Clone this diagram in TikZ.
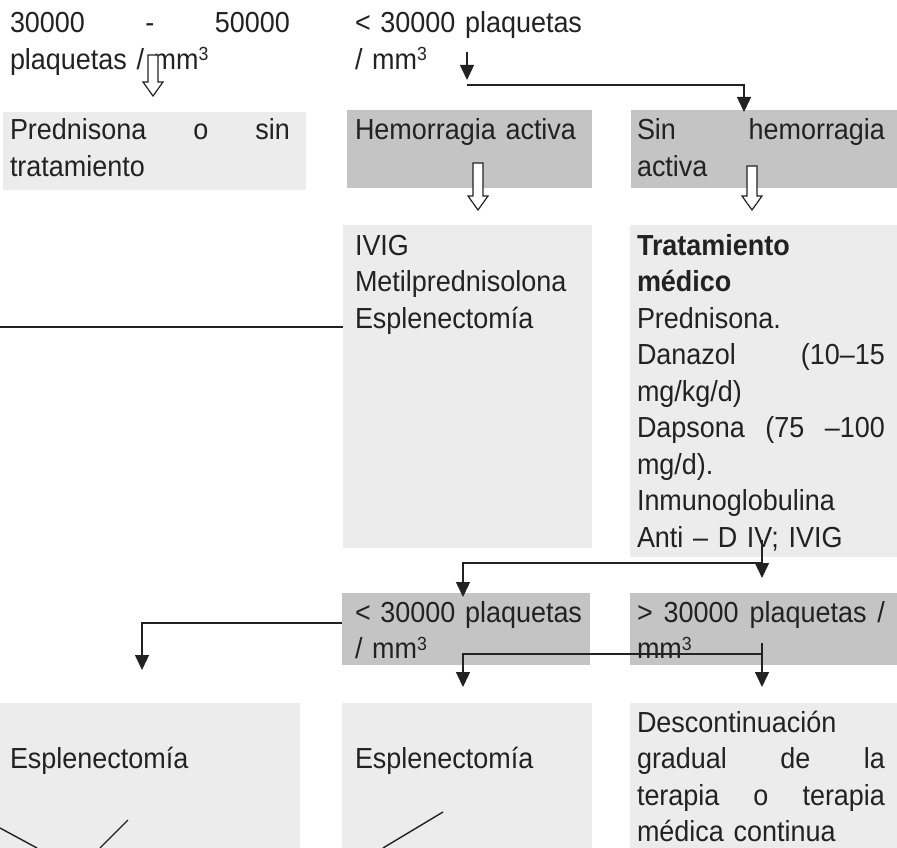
\documentclass[tikz,border=0pt]{standalone}
\usepackage{fontspec}
\setmainfont{Liberation Sans}[FakeStretch=0.93]
\usetikzlibrary{arrows.meta}
\definecolor{boxdark}{RGB}{196,196,196}
\definecolor{boxlight}{RGB}{236,236,236}
\definecolor{ink}{RGB}{34,34,34}
\newcommand\cubed{\raisebox{8.5pt}{\fontsize{19}{19}\selectfont 3}}
\begin{document}
\begin{tikzpicture}[x=1pt,y=1pt,
  txt/.style={anchor=base west, inner sep=0pt, outer sep=0pt, align=left, text=ink,
              font=\fontsize{29}{36.5}\selectfont},
  darkbox/.style={fill=boxdark, draw=none, anchor=north west, inner sep=0pt, outer sep=0pt},
  lightbox/.style={fill=boxlight, draw=none, anchor=north west, inner sep=0pt, outer sep=0pt},
  conn/.style={draw=ink, line width=1.4pt},
  arr/.style={conn, -{Triangle[width=14pt,length=15pt]}},
  pics/hollowdown/.style={code={
    \draw[ink, line width=1.2pt, fill=white, line join=miter]
      (-5,0) -- (-5,{-#1+14}) -- (-10,{-#1+14}) -- (0,-#1) -- (10,{-#1+14}) -- (5,{-#1+14}) -- (5,0) -- cycle;}}
]
\useasboundingbox (0,0) rectangle (897,-848);
\fill[white] (0,0) rectangle (897,-848);

% boxes
\node[lightbox, minimum width=303pt, minimum height=78pt] (prbox) at (3,-112) {};
\node[darkbox, minimum width=245pt, minimum height=78pt] (hembox) at (347,-110) {};
\node[darkbox, minimum width=266pt, minimum height=78pt] (sinbox) at (631,-110) {};
\node[lightbox, minimum width=249pt, minimum height=323pt] (ivigbox) at (343,-225) {};
\node[lightbox, minimum width=267pt, minimum height=332pt] (tratbox) at (630,-225) {};
\node[darkbox, minimum width=248pt, minimum height=72pt] (lowbox) at (342,-593) {};
\node[darkbox, minimum width=267pt, minimum height=72pt] (highbox) at (630,-593) {};
\node[lightbox, minimum width=300pt, minimum height=145pt] (esp1box) at (0,-703) {};
\node[lightbox, minimum width=250pt, minimum height=145pt] (esp2box) at (342,-703) {};
\node[lightbox, minimum width=267pt, minimum height=145pt] (descbox) at (630,-703) {};

% texts
\node[txt, text width=280pt] (t1) at (10,-33) {30000\hfill-\hfill 50000\\plaquetas / mm\cubed};
\node[txt, text width=240pt] (t2) at (355,-33) {< 30000 plaquetas\\/ mm\cubed};
\node[txt, text width=280pt] (pred) at (10,-140) {Prednisona\hfill o\hfill sin\\tratamiento};
\node[txt, text width=240pt] (hem) at (355,-140) {Hemorragia activa};
\node[txt, text width=248pt] (sin) at (637,-140) {Sin\hfill hemorragia\\activa};
\node[txt, text width=240pt] (ivig) at (355,-255) {IVIG\\Metilprednisolona\\Esplenectomía};
\node[txt, text width=248pt] (trat) at (637,-255) {\textbf{Tratamiento}\\\textbf{médico}\\Prednisona.\\Danazol\hfill(10–15\\mg/kg/d)\\Dapsona\hfill(75\hfill–100\\mg/d).\\Inmunoglobulina\\Anti – D IV; IVIG};
\node[txt, text width=240pt] (low) at (355,-622) {< 30000 plaquetas\\/ mm\cubed};
\node[txt, text width=248pt] (high) at (637,-622) {>\hfill 30000\hfill plaquetas\hfill /\\mm\cubed};
\node[txt, text width=280pt] (esp1) at (10,-768) {Esplenectomía};
\node[txt, text width=240pt] (esp2) at (355,-768) {Esplenectomía};
\node[txt, text width=248pt] (desc) at (637,-732) {Descontinuación\\gradual\hfill de\hfill la\\terapia\hfill o\hfill terapia\\médica continua};

% hollow arrows
\pic at (153,-55) {hollowdown=41};
\pic at (478,-163) {hollowdown=47};
\pic at (752,-166) {hollowdown=44};

% connector coordinates
\coordinate (c1a) at (467,-52);
\coordinate (c1b) at (467,-80);
\coordinate (c2a) at (467,-85);
\coordinate (c2b) at (744,-85);
\coordinate (c2c) at (744,-112);
\coordinate (c3a) at (0,-327);
\coordinate (c3b) at (ivigbox.west |- c3a);
\coordinate (c4a) at (762,-540);
\coordinate (c4b) at (762,-578);
\coordinate (c4c) at (762,-563);
\coordinate (c4d) at (463,-563);
\coordinate (c4e) at (463,-597);
\coordinate (c5a) at (lowbox.west |- 0,-623);
\coordinate (c5b) at (142,-623);
\coordinate (c5c) at (142,-670);
\coordinate (c6a) at (762,-643);
\coordinate (c6b) at (762,-687);
\coordinate (c6c) at (762,-654);
\coordinate (c6d) at (463,-654);
\coordinate (c6e) at (463,-687);
\coordinate (f1a) at (0,-828);
\coordinate (f1b) at (37,-848);
\coordinate (f2a) at (100,-848);
\coordinate (f2b) at (128,-820);
\coordinate (f3a) at (383,-848);
\coordinate (f3b) at (443,-812);

% connectors
\draw[arr] (c1a) -- (c1b);
\draw[arr] (c2a) -- (c2b) -- (c2c);
\draw[conn] (c3a) -- (c3b);
\draw[arr] (c4a) -- (c4b);
\draw[arr] (c4c) -- (c4d) -- (c4e);
\draw[arr] (c5a) -- (c5b) -- (c5c);
\draw[arr] (c6a) -- (c6b);
\draw[arr] (c6c) -- (c6d) -- (c6e);
\draw[conn] (f1a) -- (f1b);
\draw[conn] (f2a) -- (f2b);
\draw[conn] (f3a) -- (f3b);
\end{tikzpicture}
\end{document}
